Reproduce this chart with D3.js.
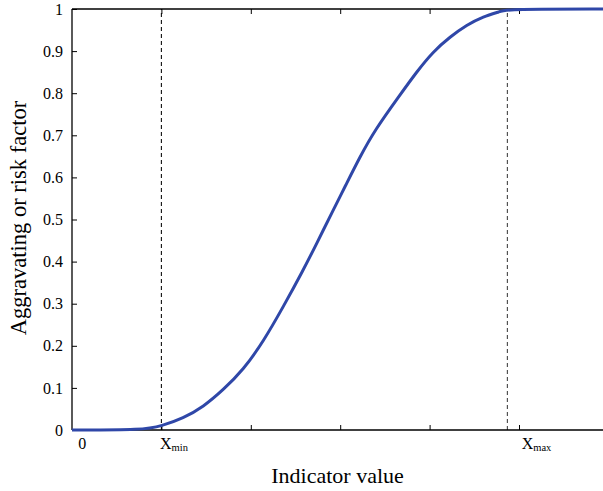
<!DOCTYPE html>
<html>
<head>
<meta charset="utf-8">
<script src="https://cdn.jsdelivr.net/npm/d3@7"></script>
<style>
  body { margin: 0; background: #fff; }
</style>
</head>
<body>
<div class="Chart"></div>
<script>
// curve (indicator value, factor)
const curveX = [0, 0.8, 1.0, 1.245, 1.469, 1.69, 1.916, 2.14, 2.364, 2.587, 2.737, 2.923, 3.054,
  3.221, 3.389, 3.669, 3.856, 4.04, 4.23, 4.415, 4.60, 4.79, 4.87, 6];
const curveY = [0, 0, 0.0095, 0.028, 0.055, 0.095, 0.143, 0.21, 0.293, 0.38, 0.443, 0.523, 0.578,
  0.649, 0.713, 0.796, 0.851, 0.899, 0.934, 0.962, 0.982, 0.994, 1, 1];

const xTicks = [1, 2, 3, 4, 5];
const yTicks = [0, 0.1, 0.2, 0.3, 0.4, 0.5, 0.6, 0.7, 0.8, 0.9, 1];
const xLabels = [
  { text: '0', sub: '', at: 0.07 },
  { text: 'X', sub: 'min', at: 0.985 },
  { text: 'X', sub: 'max', at: 5.03 }
];
const markers = [1, 4.87]; // x_min, x_max

const width = 603, height = 491;
const plot = { left: 72, top: 9, bottom: 430, right: 608.4 };
const serif = 'Liberation Serif';

const svg = d3.select('.Chart').append('svg')
  .attr('width', width).attr('height', height)
  .style('display', 'block');

const x = d3.scaleLinear().domain([0, 6]).range([plot.left, plot.right]);
const y = d3.scaleLinear().domain([0, 1]).range([plot.bottom, plot.top]);

// dashed markers
svg.selectAll('.marker')
  .data(markers)
  .enter().append('line')
  .attr('x1', d => x(d)).attr('x2', d => x(d))
  .attr('y1', y(0)).attr('y2', y(1))
  .attr('stroke', (d, i) => i === 0 ? '#111' : '#444')
  .attr('stroke-width', 1.1)
  .attr('stroke-dasharray', '4,3');

// axes, matlab style ticks pointing inward
const yAxis = svg.append('g').attr('transform', `translate(${plot.left},0)`)
  .call(d3.axisRight(y).tickValues(yTicks).tickSize(5).tickFormat(d => d3.format('')(d)));
yAxis.attr('font-family', serif).attr('font-size', 16);
yAxis.selectAll('text')
  .attr('x', -9).attr('text-anchor', 'end')
  .style('fill', '#000');

const xAxis = svg.append('g').attr('transform', `translate(0,${plot.bottom})`)
  .call(d3.axisTop(x).tickValues(xTicks).tickSize(5).tickFormat(''));
const xTop = svg.append('g').attr('transform', `translate(0,${plot.top})`)
  .call(d3.axisBottom(x).tickValues(xTicks).tickSize(5).tickFormat(''));

[yAxis, xAxis, xTop].forEach(a => {
  a.selectAll('line').style('stroke', '#000').style('stroke-width', 1);
  a.select('.domain').style('stroke', '#000').style('stroke-width', 1.3);
});
xTop.select('.domain').attr('d', `M${plot.left},0H${plot.right}`);
xAxis.select('.domain').attr('d', `M${plot.left},0H${plot.right}`);
yAxis.select('.domain').attr('d', `M0,${plot.top}V${plot.bottom}`);

// x labels
const lab = svg.selectAll('.xlab')
  .data(xLabels)
  .enter().append('text')
  .attr('x', d => x(d.at)).attr('y', 449)
  .style('font-family', serif)
  .style('font-size', '16px');
lab.append('tspan').text(d => d.text);
lab.append('tspan').attr('dy', 2).style('font-size', '10.5px').text(d => d.sub);

// curve
const pts = curveX.map((v, i) => [v, curveY[i]]);
svg.append('path')
  .datum(pts)
  .attr('fill', 'none')
  .attr('stroke', '#2f47a8')
  .attr('stroke-width', 3)
  .attr('d', d3.line().x(d => x(d[0])).y(d => y(d[1])).curve(d3.curveBasis));

// titles
svg.append('text').text('Indicator value')
  .attr('x', 337.5).attr('y', 483).attr('text-anchor', 'middle')
  .style('font-family', serif)
  .style('font-size', '22px');
svg.append('text').text('Aggravating or risk factor')
  .attr('transform', `translate(25.5,218) rotate(-90)`).attr('text-anchor', 'middle')
  .style('font-family', serif)
  .style('font-size', '22.5px');
</script>
</body>
</html>
